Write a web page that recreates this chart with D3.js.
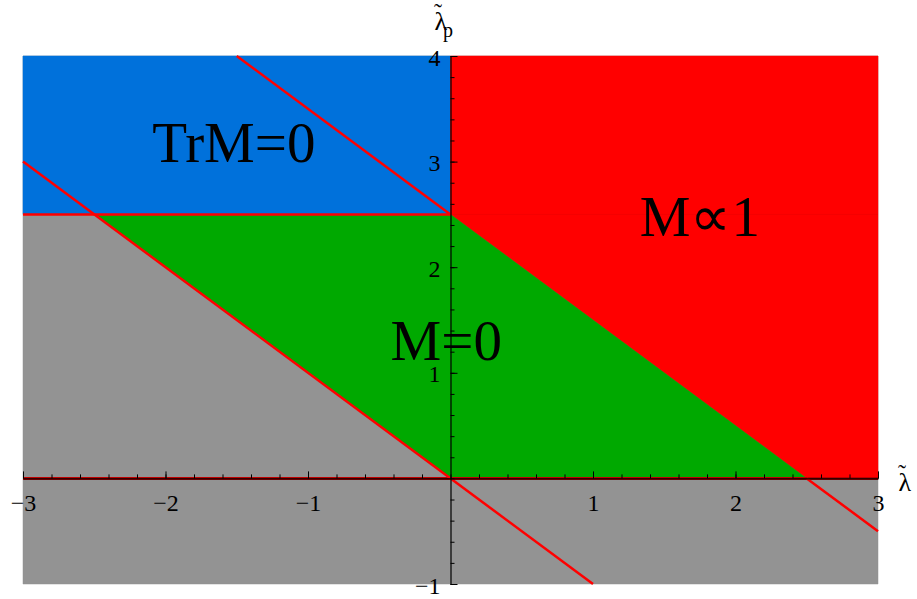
<!DOCTYPE html>
<html>
<head>
<meta charset="utf-8">
<script src="https://cdn.jsdelivr.net/npm/d3@7"></script>
<style>
  body { margin: 0; background: #fff; }
  text { font-family: "Liberation Serif", "Times New Roman", serif; }
</style>
</head>
<body>
<div id="chart"></div>
<script>
// regions of the phase diagram, in (lambda, lambda_p) coordinates
const grayRegion  = [[-3, -1], [3, -1], [3, 4], [-3, 4]];
const blueRegion  = [[-3, 2.5], [0, 2.5], [0, 4], [-3, 4]];
const redRegion   = [[0, 4], [3, 4], [3, 0], [2.5, 0], [0, 2.5]];
const greenRegion = [[-2.5, 2.5], [0, 2.5], [2.5, 0], [0, 0]];

// red boundary lines (segments)
const redLines = [
  [[-3, 3], [1, -1]],        // lp = -l
  [[-1.5, 4], [0, 2.5]],     // lp = 2.5 - l
  [[2.5, 0], [3, -0.5]],
  [[-3, 2.5], [0, 2.5]]      // lp = 2.5
];
const zeroLine = [[-3, 0], [3, 0]];

const regionLabels = [
  {text: "TrM=0", x: -1.52, y: 3.0},
  {text: "M=0",   x: -0.03, y: 1.12},
  {text: "M\u221D1", x: 1.75, y: 2.3}
];

const xTicks = [-3, -2, -1, 1, 2, 3];
const yTicks = [-1, 1, 2, 3, 4];

function main() {
  let width = 917, height = 599;
  let x = d3.scaleLinear().domain([-3, 3]).range([23, 878]);
  let y = d3.scaleLinear().domain([-1, 4]).range([584, 56]);
  let fmt = d3.format("d");

  const svg = d3.select("#chart").append("svg")
    .attr("width", width)
    .attr("height", height);

  let poly = d3.line().x(d => x(d[0])).y(d => y(d[1]));

  let regions = [
    [grayRegion, "#939393"],
    [blueRegion, "#0071DB"],
    [redRegion, "#FF0000"],
    [greenRegion, "#00A900"]
  ];
  svg.append("g")
    .selectAll("path")
    .data(regions)
    .join("path")
      .attr("d", d => poly(d[0]) + "Z")
      .attr("fill", d => d[1])
      .attr("stroke", d => d[1])
      .attr("stroke-width", 0.5);

  // faint seam inside the red region
  svg.append("path")
    .attr("d", poly([[0, 2.5], [3, 2.5]]))
    .attr("stroke", "#e00000")
    .attr("stroke-width", 1)
    .attr("stroke-opacity", 0.35);

  svg.append("path")
    .attr("d", poly(zeroLine))
    .attr("stroke", "#c00000")
    .attr("stroke-width", 3);

  svg.append("g")
    .selectAll("path")
    .data(redLines)
    .join("path")
      .attr("d", d => poly(d))
      .attr("fill", "none")
      .attr("stroke", "#FF0000")
      .attr("stroke-width", 2.5);

  // minor ticks
  svg.append("g")
    .attr("transform", `translate(0,${y(0)})`)
    .call(d3.axisBottom(x).tickValues(d3.range(-3, 3.01, 0.2)).tickSizeInner(-4).tickSizeOuter(0).tickFormat(""))
    .call(g => g.select(".domain").remove());
  svg.append("g")
    .attr("transform", `translate(${x(0)},0)`)
    .call(d3.axisLeft(y).tickValues(d3.range(-1, 4.01, 0.2)).tickSizeInner(-4).tickSizeOuter(0).tickFormat(""))
    .call(g => g.select(".domain").remove());

  // major ticks and labels
  svg.append("g")
    .attr("transform", `translate(0,${y(0)})`)
    .call(d3.axisBottom(x).tickValues(xTicks).tickFormat(fmt).tickSizeInner(-7).tickSizeOuter(0).tickPadding(16))
    .call(g => g.select(".domain").attr("stroke-width", 1.2))
    .call(g => g.selectAll("text").attr("font-size", 24).attr("font-family", "Liberation Serif").attr("fill", "#000"));

  svg.append("g")
    .attr("transform", `translate(${x(0)},0)`)
    .call(d3.axisLeft(y).tickValues(yTicks).tickFormat(fmt).tickSizeInner(-7).tickSizeOuter(0).tickPadding(10))
    .call(g => g.select(".domain").attr("stroke-width", 1.2))
    .call(g => g.selectAll("text").attr("font-size", 24).attr("font-family", "Liberation Serif").attr("fill", "#000").attr("dy", "0.38em"));

  svg.append("g")
    .selectAll("text")
    .data(regionLabels)
    .join("text")
      .attr("x", d => x(d.x))
      .attr("y", d => y(d.y))
      .attr("text-anchor", "middle")
      .attr("font-size", 57)
      .text(d => d.text);

  // axis titles: lambda with a tilde drawn above it, one text each
  function tildeLambda(px, py, sub) {
    let t = svg.append("text")
      .attr("x", px).attr("y", py)
      .attr("font-size", 26);
    t.append("tspan").text("\u03BB");
    t.append("tspan").attr("dx", -13).attr("dy", -10).attr("font-size", 24).text("\u02DC");
    if (sub) {
      t.append("tspan").attr("dx", 1).attr("dy", 17).attr("font-size", 20).text(sub);
    }
  }
  tildeLambda(898, 491);
  tildeLambda(434, 30, "p");
}

main();
</script>
</body>
</html>
